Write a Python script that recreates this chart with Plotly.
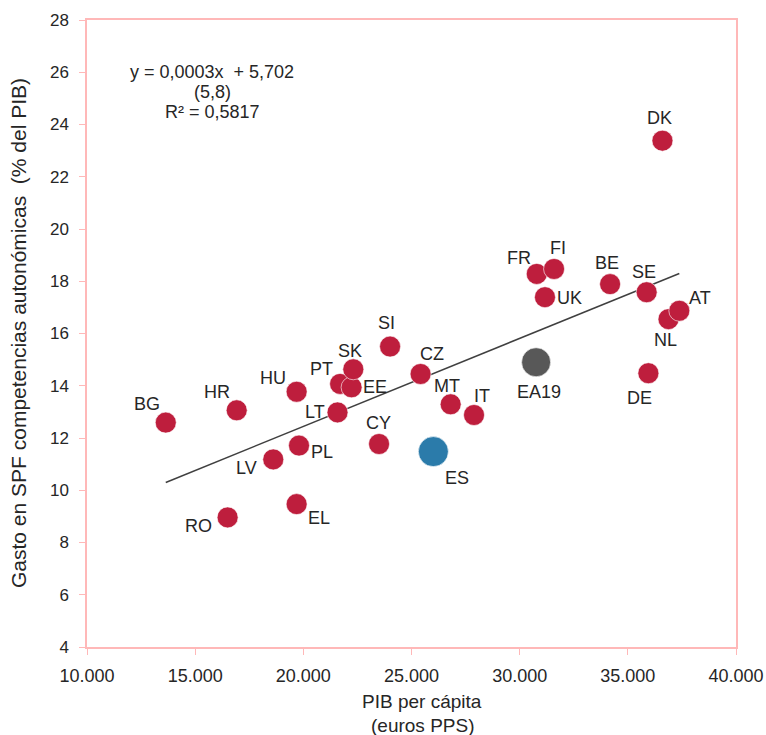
import plotly.graph_objects as go

# Country data: GDP per capita (PPS euros) vs regional-competence public spending (% GDP)
countries = ["BG", "HR", "RO", "LV", "HU", "PL", "EL", "LT", "PT", "EE", "SK", "SI",
             "CY", "CZ", "MT", "IT", "FR", "FI", "UK", "BE", "SE", "DE", "NL", "AT", "DK"]
gdp_pc = [13640, 16920, 16500, 18610, 19690, 19800, 19690, 21580, 21700, 22230, 22310, 24010,
          23500, 25420, 26810, 27890, 30790, 31590, 31170, 34180, 35870, 35950, 36880, 37380, 36600]
spending = [12.59, 13.06, 8.96, 11.18, 13.77, 11.71, 9.47, 12.98, 14.07, 13.94, 14.63, 15.50,
            11.77, 14.45, 13.29, 12.88, 18.28, 18.47, 17.39, 17.89, 17.58, 14.48, 16.55, 16.87, 23.38]

# Highlighted aggregates
es_gdp, es_spend = 26010, 11.48
ea_gdp, ea_spend = 30760, 14.90

# Linear trend (Excel-style fit shown in the equation box)
trend_slope = 0.000337
trend_intercept = 5.702
eq_lines = ["y = 0,0003x  + 5,702", "(5,8)", "R² = 0,5817"]

x_ticks = [10000, 15000, 20000, 25000, 30000, 35000, 40000]
y_ticks = [4, 6, 8, 10, 12, 14, 16, 18, 20, 22, 24, 26, 28]

x_title_lines = ["PIB per cápita", "(euros PPS)"]
y_title = "Gasto en SPF competencias autonómicas\u00a0 (% del PIB)"

# Label offsets (px) relative to each marker
label_offsets = {
    "BG": (-19, -19), "HR": (-20, -18), "RO": (-29, 9), "LV": (-27, 9), "HU": (-24, -14),
    "PL": (23, 6), "EL": (22, 14), "LT": (-23, 0), "PT": (-19, -15), "EE": (23, 0),
    "SK": (-3, -18), "SI": (-4, -24), "CY": (-1, -21), "CZ": (11, -20), "MT": (-4, -18),
    "IT": (8, -19), "FR": (-18, -16), "FI": (4, -21), "UK": (25, 1), "BE": (-3, -21),
    "SE": (-3, -20), "DE": (-9, 25), "NL": (-3, 21), "AT": (21, -13), "DK": (-3, -23),
}

RED = "#BE1E3D"
BLUE = "#2B7BAA"
GREY = "#585858"
FRAME = "#FFB8B8"
TXT = "#262626"
FONT = "Liberation Sans, Arial, sans-serif"

W, H = 766, 735
ML, MR, MT, MB = 87, 30, 20, 88
PW, PH = W - ML - MR, H - MT - MB


def px_to_paper(px, py):
    return (px - ML) / PW, 1 - (py - MT) / PH


fig = go.Figure()

x0, x1 = min(gdp_pc), max(gdp_pc)
fig.add_trace(go.Scatter(
    x=[x0, x1],
    y=[trend_slope * x0 + trend_intercept, trend_slope * x1 + trend_intercept],
    mode="lines", line=dict(color="#404040", width=1.5), hoverinfo="skip",
))

edge = dict(color="rgba(255,255,255,0.6)", width=1)
fig.add_trace(go.Scatter(
    x=gdp_pc, y=spending, mode="markers",
    marker=dict(color=RED, size=21, line=edge),
    text=countries, hoverinfo="text",
))
fig.add_trace(go.Scatter(
    x=[es_gdp], y=[es_spend], mode="markers",
    marker=dict(color=BLUE, size=30, line=edge),
))
fig.add_trace(go.Scatter(
    x=[ea_gdp], y=[ea_spend], mode="markers",
    marker=dict(color=GREY, size=29, line=edge),
))

lab_font = dict(size=18, color=TXT, family=FONT)
annotations = []
for c, gx, sy in zip(countries, gdp_pc, spending):
    dx, dy = label_offsets[c]
    annotations.append(dict(x=gx, y=sy, text=c, showarrow=True, arrowcolor="rgba(0,0,0,0)",
                            ax=dx, ay=dy, font=lab_font))
annotations.append(dict(x=es_gdp, y=es_spend, text="ES", showarrow=True, arrowcolor="rgba(0,0,0,0)",
                        ax=24, ay=26, font=lab_font))
annotations.append(dict(x=ea_gdp, y=ea_spend, text="EA19", showarrow=True, arrowcolor="rgba(0,0,0,0)",
                        ax=3, ay=30, font=lab_font))

# Equation block
for i, line in enumerate(eq_lines):
    ex, ey = px_to_paper(212, 72 + 20 * i)
    annotations.append(dict(x=ex, y=ey, xref="paper", yref="paper", text=line,
                            xanchor="center", yanchor="middle", showarrow=False,
                            font=dict(size=18, color=TXT, family=FONT)))

# Axis titles
for i, line in enumerate(x_title_lines):
    tx, ty = px_to_paper(422, 701 + 24 * i)
    annotations.append(dict(x=tx, y=ty, xref="paper", yref="paper", text=line,
                            xanchor="center", yanchor="middle", showarrow=False,
                            font=dict(size=19, color=TXT, family=FONT)))
tx, ty = px_to_paper(18, 333)
annotations.append(dict(x=tx, y=ty, xref="paper", yref="paper", text=y_title, textangle=-90,
                        xanchor="center", yanchor="middle", showarrow=False,
                        font=dict(size=21, color=TXT, family=FONT)))

fig.update_layout(
    width=W, height=H,
    margin=dict(l=ML, r=MR, t=MT, b=MB, autoexpand=False),
    paper_bgcolor="white", plot_bgcolor="white",
    showlegend=False,
    separators=",.",
    font=dict(family=FONT, color=TXT, size=17),
    annotations=annotations,
)

fig.update_xaxes(
    range=[10000, 40000], tickvals=x_ticks, tickformat=",d",
    showgrid=False, zeroline=False, automargin=False,
    showline=True, linecolor=FRAME, linewidth=1.5, mirror=True,
    ticks="outside", tickcolor=FRAME, ticklen=6, ticklabelstandoff=6,
    tickfont=dict(size=18, color=TXT, family=FONT),
)
fig.update_yaxes(
    range=[4, 28], tickvals=y_ticks,
    showgrid=False, zeroline=False, automargin=False,
    showline=True, linecolor=FRAME, linewidth=1.5, mirror=True,
    ticks="outside", tickcolor=FRAME, ticklen=6, ticklabelstandoff=7,
    tickfont=dict(size=17, color=TXT, family=FONT),
)

fig.write_html("out.html")
